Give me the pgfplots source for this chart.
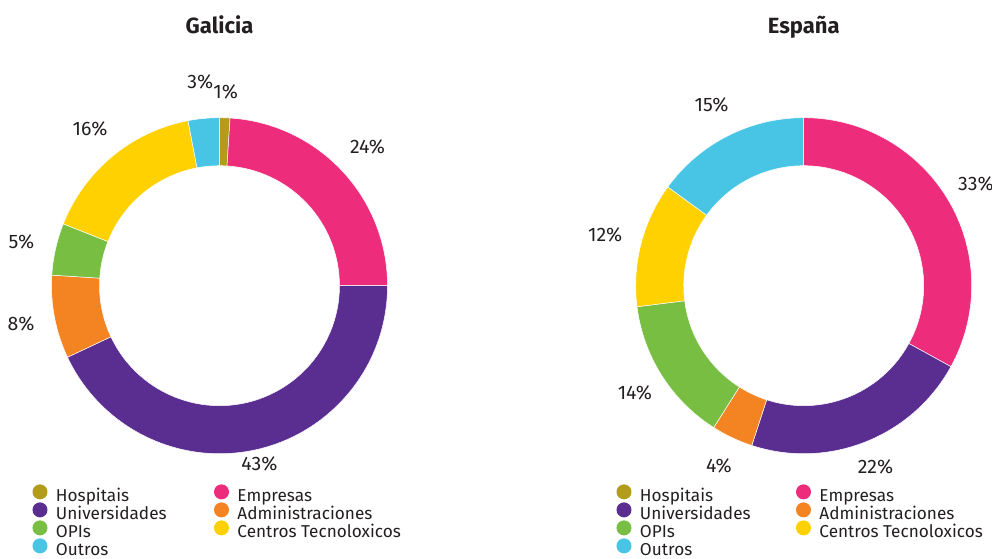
\documentclass[border=0pt]{standalone}
\usepackage{pgfplots}
\pgfplotsset{compat=1.18}
\usepackage{pgfplotstable}
\usepackage{fontspec}
\setmainfont{Fira Sans}
\definecolor{chosp}{HTML}{B39C1B}
\definecolor{cemp}{HTML}{EE2C7C}
\definecolor{cuniv}{HTML}{5A2D91}
\definecolor{cadm}{HTML}{F48322}
\definecolor{copi}{HTML}{78BE43}
\definecolor{ccent}{HTML}{FFD100}
\definecolor{coutros}{HTML}{48C5E5}
\definecolor{txt}{HTML}{231F20}
\newcommand\lbl{\fontsize{17.2bp}{19bp}\selectfont}
\newcommand\pct{\fontsize{19.5bp}{21bp}\selectfont}
\newcommand\ttl{\fontsize{22bp}{24bp}\selectfont\bfseries}

% value = share (%), lr = label radius (px)
\pgfplotstableread{
name value colr lr
Hospitais 1 chosp 194
Empresas 24 cemp 203
Universidades 43 cuniv 183
Administraciones 8 cadm 202
OPIs 5 copi 203
CentrosTecnoloxicos 16 ccent 203
Outros 3 coutros 205
}\galicia
\pgfplotstableread{
name value colr lr
Hospitais 0 chosp 200
Empresas 33 cemp 200
Universidades 22 cuniv 195
Administraciones 4 cadm 199
OPIs 14 copi 200
CentrosTecnoloxicos 12 ccent 205
Outros 15 coutros 203
}\espana

\newcommand{\drawdonut}[3]{%
  \pgfplotstablegetrowsof{#1}%
  \pgfmathtruncatemacro\lastrow{\pgfplotsretval-1}%
  \gdef\cum{0}%
  \foreach \i in {0,...,\lastrow}{%
    \pgfplotstablegetelem{\i}{value}\of#1\let\val\pgfplotsretval
    \pgfplotstablegetelem{\i}{colr}\of#1\let\colr\pgfplotsretval
    \pgfplotstablegetelem{\i}{lr}\of#1\let\lrad\pgfplotsretval
    \pgfmathsetmacro\sa{90-3.6*\cum}%
    \pgfmathsetmacro\ea{90-3.6*(\cum+\val)}%
    \pgfmathsetmacro\ma{(\sa+\ea)/2}%
    \pgfmathsetmacro\newcum{\cum+\val}\xdef\cum{\newcum}%
    \ifdim\val pt>0pt
      \fill[\colr, draw=white, line width=0.5bp]
        ([shift={(\sa:168bp)}]axis cs:#2,#3)
        arc[start angle=\sa, end angle=\ea, radius=168bp]
        -- ([shift={(\ea:120bp)}]axis cs:#2,#3)
        arc[start angle=\ea, end angle=\sa, radius=120bp] -- cycle;
      \node[font=\pct, text=txt, inner sep=0pt] at ([shift={(\ma:\lrad bp)}]axis cs:#2,#3) {\val\%};
    \fi
  }%
}

\pgfplotsset{
  donutaxis/.style={
    anchor=south west, width=496bp, height=559bp, scale only axis,
    ymin=0, ymax=559, hide axis, clip=false,
    legend cell align=left,
    legend columns=2,
    legend image code/.code={\fill[##1] (0bp,5.9bp) circle (7.5bp); \path (-7.5bp,0bp) (16bp,0bp);},
    legend style={draw=none, fill=none, inner sep=0pt, outer sep=0pt, anchor=north west,
      font=\lbl, text=txt, column sep=0pt, row sep=-3.4bp,
      nodes={inner xsep=0pt, inner ysep=0pt, text height=12bp, text depth=4bp}},
  }
}

\begin{document}
\begin{tikzpicture}
\begin{axis}[donutaxis, at={(0bp,0bp)}, xmin=0, xmax=496,
  legend style={at={(0.0655,0.1335)}}]
  \addlegendimage{fill=chosp, draw=none}\addlegendentry{\makebox[158bp][l]{Hospitais}}
  \addlegendimage{fill=cemp, draw=none}\addlegendentry{Empresas}
  \addlegendimage{fill=cuniv, draw=none}\addlegendentry{\makebox[158bp][l]{Universidades}}
  \addlegendimage{fill=cadm, draw=none}\addlegendentry{Administraciones}
  \addlegendimage{fill=copi, draw=none}\addlegendentry{\makebox[158bp][l]{OPIs}}
  \addlegendimage{fill=ccent, draw=none}\addlegendentry{Centros Tecnoloxicos}
  \addlegendimage{fill=coutros, draw=none}\addlegendentry{\makebox[158bp][l]{Outros}}
  \pgfplotsextra{\drawdonut{\galicia}{219.5}{273.3}}
  \node[font=\ttl, text=txt, anchor=base] at (axis cs:219.5,525.7) {Galicia};
\end{axis}
\begin{axis}[donutaxis, at={(496bp,0bp)}, xmin=496, xmax=992,
  legend style={at={(0.2429,0.1335)}}]
  \addlegendimage{fill=chosp, draw=none}\addlegendentry{\makebox[156bp][l]{Hospitais}}
  \addlegendimage{fill=cemp, draw=none}\addlegendentry{Empresas}
  \addlegendimage{fill=cuniv, draw=none}\addlegendentry{\makebox[156bp][l]{Universidades}}
  \addlegendimage{fill=cadm, draw=none}\addlegendentry{Administraciones}
  \addlegendimage{fill=copi, draw=none}\addlegendentry{\makebox[156bp][l]{OPIs}}
  \addlegendimage{fill=ccent, draw=none}\addlegendentry{Centros Tecnoloxicos}
  \addlegendimage{fill=coutros, draw=none}\addlegendentry{\makebox[156bp][l]{Outros}}
  \pgfplotsextra{\drawdonut{\espana}{803.7}{273.3}}
  \node[font=\ttl, text=txt, anchor=base] at (axis cs:803.7,525.7) {España};
\end{axis}
\pgfresetboundingbox
\path (0bp,0bp) rectangle (992bp,559bp);
\end{tikzpicture}
\end{document}
